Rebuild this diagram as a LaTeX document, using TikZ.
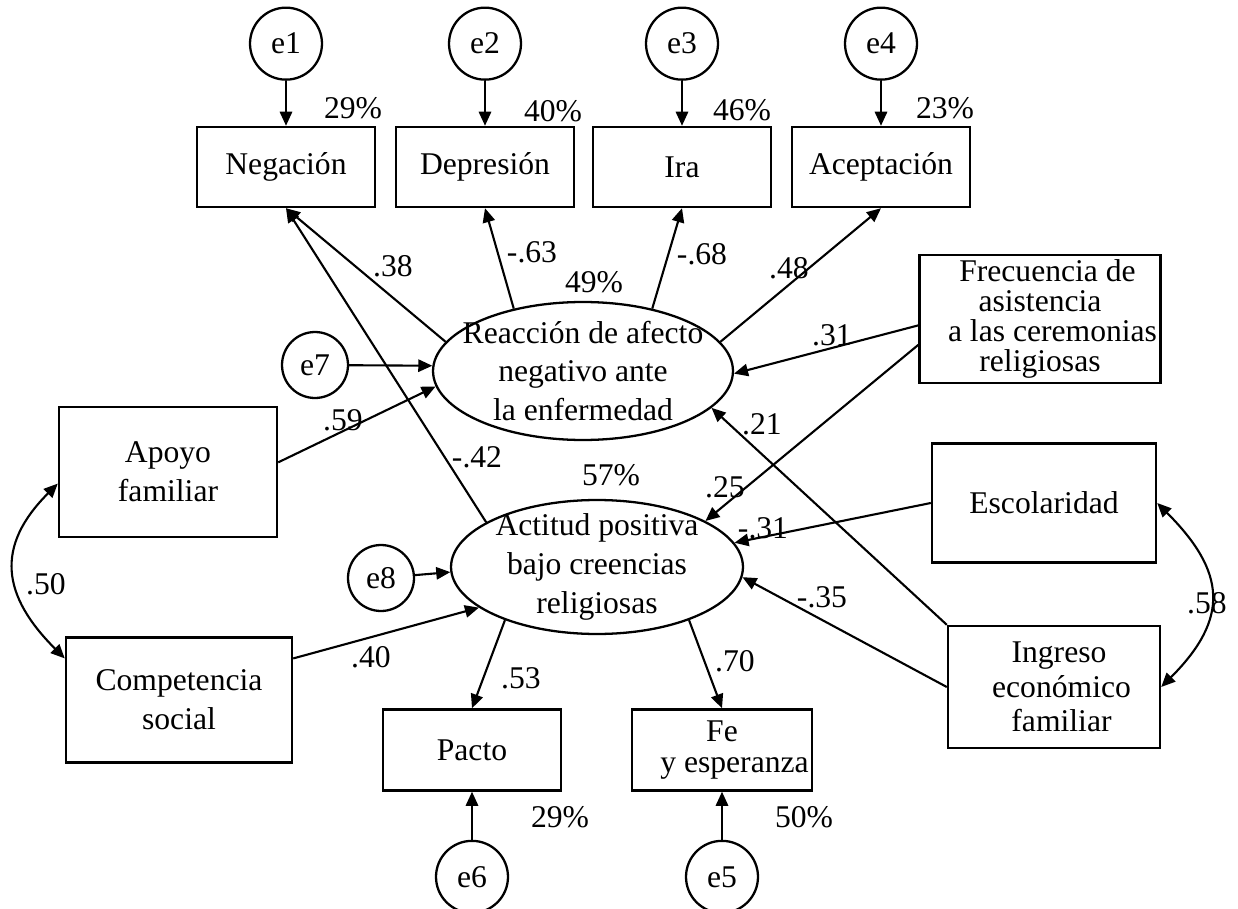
\documentclass[tikz,border=0pt]{standalone}
\usepackage{fontspec}
\setmainfont{Liberation Serif}
\usepackage{tikz}
\usetikzlibrary{arrows.meta,positioning,shapes.geometric}

\begin{document}
\begin{tikzpicture}[
  x=0.02cm, y=-0.02cm,
  font=\fontsize{18}{22}\selectfont,
  box/.style={draw, line width=1.4pt, align=center, inner sep=2pt,
              minimum width=3.56cm, minimum height=1.6cm},
  lat/.style={draw, ellipse, line width=1.3pt, align=center,
              inner xsep=-0.45cm, inner ysep=-0.25cm},
  err/.style={draw, circle, line width=1.3pt, inner sep=0pt, minimum size=1.44cm},
  lbl/.style={inner sep=0pt},
  arr/.style={-{Triangle[length=8pt,width=7pt]}, line width=1.2pt},
  cov/.style={{Triangle[length=8pt,width=7pt]}-{Triangle[length=8pt,width=7pt]}, line width=1.2pt}
]
\useasboundingbox (0,0) rectangle (1238,909);

% indicadores de arriba
\node[box] (neg) at (286,167) {Negación};
\node[box] (dep) at (485,167) {Depresión};
\node[box] (ira) at (682,167) {Ira};
\node[box] (acep) at (881,167) {Aceptación};
\node[err, above=0.9cm of neg] (e1) {e1};
\node[err, above=0.9cm of dep] (e2) {e2};
\node[err, above=0.9cm of ira] (e3) {e3};
\node[err, above=0.9cm of acep] (e4) {e4};

% latentes
\node[lat, minimum width=6cm, minimum height=2.76cm] (rea) at (583,371)
     {Reacción de afecto\\negativo ante\\la enfermedad};
\node[lat, minimum width=5.84cm, minimum height=2.68cm] (act) at (597,567)
     {Actitud positiva\\bajo creencias\\religiosas};
\node[err, minimum size=1.32cm] (e7) at (315,365) {e7};
\node[err, minimum size=1.32cm] (e8) at (381,578) {e8};

% exogenas
\node[box, minimum width=4.36cm, minimum height=2.6cm] (apoyo) at (168,472)
     {Apoyo\\familiar};
\node[box, minimum width=4.52cm, minimum height=2.5cm] (comp) at (179,700)
     {Competencia\\social};
\node[box, minimum width=4.72cm, minimum height=2.56cm,
      font=\fontsize{18}{17.2}\selectfont] (frec) at (1040,319)
     {\hspace*{0.3cm}Frecuencia de\\asistencia\\\hspace*{0.5cm}a las ceremonias\\religiosas};
\node[box, minimum width=4.48cm, minimum height=2.38cm] (esco) at (1044,503)
     {Escolaridad};
\node[box, minimum width=4.24cm, minimum height=2.44cm,
      font=\fontsize{18}{19.5}\selectfont] (ingr) at (1054,687)
     {\hspace*{0.2cm}Ingreso\\\hspace*{0.3cm}económico\\\hspace*{0.3cm}familiar};

% indicadores de abajo
\node[box, minimum height=1.62cm] (pacto) at (472,750) {Pacto};
\node[box, minimum height=1.62cm, font=\fontsize{18}{17.5}\selectfont] (fe) at (722,750)
     {Fe\\\hspace*{0.5cm}y esperanza};
\node[err, below=0.96cm of pacto] (e6) {e6};
\node[err, below=0.96cm of fe] (e5) {e5};

% errores
\draw[arr] (e1) -- (neg);
\draw[arr] (e2) -- (dep);
\draw[arr] (e3) -- (ira);
\draw[arr] (e4) -- (acep);
\draw[arr] (e6) -- (pacto);
\draw[arr] (e5) -- (fe);
\draw[arr] (e7) -- (rea.178);
\draw[arr] (e8) -- (act.182);

% cargas
\draw[arr] (rea.168) -- (neg.south);
\draw[arr] (rea.138) -- (dep.south);
\draw[arr] (rea.42) -- (ira.south);
\draw[arr] (rea.12) -- (acep.south);
\draw[arr] (act.158) -- (neg.south);
\draw[arr] (act.210) -- (pacto.north);
\draw[arr] (act.-30) -- (fe.north);

% regresiones
\draw[arr] (apoyo.5) -- (rea.186);
\draw[arr] (comp.20) -- (act.199);
\draw[arr] (frec.183) -- (rea.-1);
\draw[arr] (frec.192) -- (act.23);
\draw[arr] (ingr.north west) -- (rea.-16);
\draw[arr] (esco.west) -- (act.10);
\draw[arr] (ingr.west) -- (act.-4);

% covarianzas
\draw[cov] (apoyo.186) to[out=225, in=135, looseness=1.3] (comp.160);
\draw[cov] (esco.east) to[out=-45, in=45, looseness=1.35] (ingr.east);

% coeficientes
\node[lbl] (r1) at (353,108) {29\%};
\node[lbl] (r2) at (553,111) {40\%};
\node[lbl] (r3) at (742,110) {46\%};
\node[lbl] (r4) at (945,108) {23\%};
\node[lbl] (r5) at (804,817) {50\%};
\node[lbl] (r6) at (560,817) {29\%};
\node[lbl] (rrea) at (594,282) {49\%};
\node[lbl] (ract) at (611,475) {57\%};
\node[lbl] (w38) at (393,266) {.38};
\node[lbl] (w63) at (532,252) {-.63};
\node[lbl] (w68) at (702,254) {-.68};
\node[lbl] (w48) at (789,268) {.48};
\node[lbl] (w31a) at (832,335) {.31};
\node[lbl] (w42) at (477,457) {-.42};
\node[lbl] (w59) at (343,420) {.59};
\node[lbl] (w21) at (762,424) {.21};
\node[lbl] (w25) at (725,487) {.25};
\node[lbl] (w31b) at (763,528) {-.31};
\node[lbl] (w35) at (822,597) {-.35};
\node[lbl] (w40) at (371,657) {.40};
\node[lbl] (w53) at (521,678) {.53};
\node[lbl] (w70) at (735,661) {.70};
\node[lbl] (c50) at (46,584) {.50};
\node[lbl] (c58) at (1207,603) {.58};
\end{tikzpicture}
\end{document}
